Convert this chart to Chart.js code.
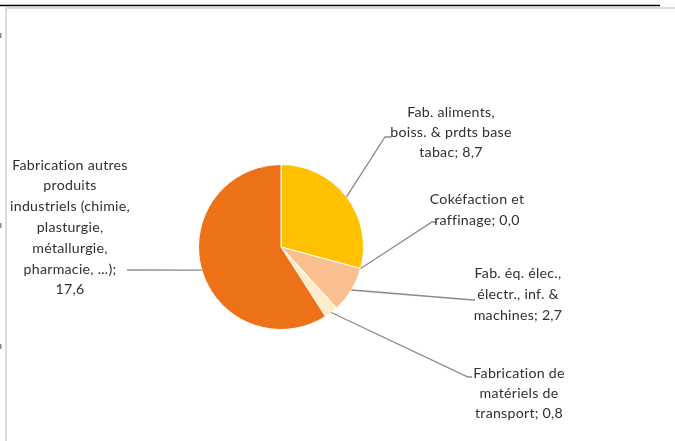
<!DOCTYPE html>
<html><head><meta charset="utf-8">
<script src="https://cdn.jsdelivr.net/npm/chart.js@4"></script>
<style>html,body{margin:0;padding:0;background:#fff}#wrap{width:675px;height:441px;position:relative}</style>
</head><body><div id="wrap"><canvas id="c" width="675" height="441"></canvas></div>
<script>
const categories = [
  ["Fab. aliments,", "boiss. & prdts base", "tabac"],
  ["Cokéfaction et", "raffinage"],
  ["Fab. éq. élec.,", "électr., inf. &", "machines"],
  ["Fabrication de", "matériels de", "transport"],
  ["Fabrication autres", "produits", "industriels (chimie,", "plasturgie,", "métallurgie,", "pharmacie, ...)"]
];
const values = [8.7, 0.0, 2.7, 0.8, 17.6];
const colors = ["#FFC000", "#F6A560", "#F9BF8F", "#FDEBC9", "#ED7117"];

// label layout: text centre x, first line y, line height, elbow point, end point
const labelLayout = [
  {x: 451, y: 112, lh: 20, elbow: [385, 137], end: [391, 137]},
  {x: 477, y: 199, lh: 21, elbow: [432, 222], end: [437, 222]},
  {x: 518, y: 273, lh: 21, elbow: [473, 300], end: [475, 300]},
  {x: 519, y: 373, lh: 20, elbow: [468, 377], end: [472, 377]},
  {x: 70, y: 165, lh: 20.8, elbow: [127, 270], end: [127, 270]}
];

function fmt(v){ return v.toFixed(1).replace('.', ','); }

const framePlugin = {
  id: 'frame',
  beforeDraw(chart){
    const ctx = chart.ctx;
    ctx.save();
    ctx.fillStyle = '#fff';
    ctx.fillRect(0,0,675,441);
    ctx.strokeStyle = '#000'; ctx.lineWidth = 1.5;
    ctx.beginPath(); ctx.moveTo(0,5.5); ctx.lineTo(660,5.5); ctx.stroke();
    ctx.strokeStyle = '#dcdcdc'; ctx.lineWidth = 2;
    ctx.beginPath(); ctx.moveTo(6,8); ctx.lineTo(675,8); ctx.stroke();
    ctx.beginPath(); ctx.moveTo(6,8); ctx.lineTo(6,441); ctx.stroke();
    ctx.fillStyle = '#888';
    ctx.fillRect(0,33,1.5,5); ctx.fillRect(0,223,1.5,5); ctx.fillRect(0,344,1.5,5);
    ctx.restore();
  }
};

const labelPlugin = {
  id: 'labels',
  afterDatasetsDraw(chart){
    const ctx = chart.ctx;
    const meta = chart.getDatasetMeta(0);
    ctx.save();
    meta.data.forEach((arc, i) => {
      const L = labelLayout[i];
      const p = arc.getProps(['x','y','startAngle','endAngle','outerRadius'], true);
      const mid = (p.startAngle + p.endAngle) / 2;
      const r = p.outerRadius;
      const ax = p.x + Math.cos(mid) * r;
      const ay = p.y + Math.sin(mid) * r;
      ctx.strokeStyle = '#8a8a8a'; ctx.lineWidth = 1.3;
      ctx.beginPath();
      ctx.moveTo(ax, ay);
      ctx.lineTo(L.elbow[0], L.elbow[1]);
      ctx.lineTo(L.end[0], L.end[1]);
      ctx.stroke();
      const lines = categories[i].slice();
      if (i === 4) {
        lines[lines.length-1] += ';';
        lines.push(fmt(values[i]));
      } else {
        lines[lines.length-1] += '; ' + fmt(values[i]);
      }
      ctx.fillStyle = '#303030';
      ctx.font = '14.2px Lato, "Open Sans", sans-serif';
      if ('letterSpacing' in ctx) ctx.letterSpacing = '0.25px';
      ctx.textAlign = 'center'; ctx.textBaseline = 'middle';
      lines.forEach((t, k) => ctx.fillText(t, L.x, L.y + k * L.lh));
    });
    ctx.restore();
  }
};

new Chart(document.getElementById('c'), {
  type: 'pie',
  data: {
    labels: categories.map(c => c.join(' ')),
    datasets: [{ data: values, backgroundColor: colors, borderColor: '#ffffff', borderWidth: 1 }]
  },
  options: {
    responsive: false,
    animation: false,
    layout: { padding: { left: 198, right: 311, top: 164, bottom: 111 } },
    plugins: { legend: { display: false }, tooltip: { enabled: false } }
  },
  plugins: [framePlugin, labelPlugin]
});
</script>
</body></html>
